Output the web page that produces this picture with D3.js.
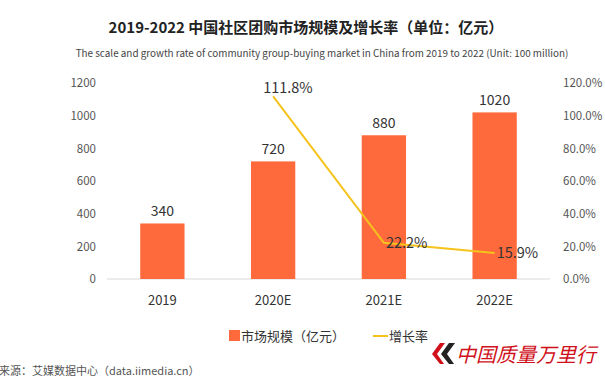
<!DOCTYPE html>
<html><head><meta charset="utf-8">
<script src="https://cdn.jsdelivr.net/npm/d3@7/dist/d3.min.js"></script>
<style>body{margin:0;background:#fff}svg{display:block}</style>
</head><body><svg id="c" width="605" height="378"></svg>
<script>
const categories = ["2019", "2020E", "2021E", "2022E"];
const marketSize = [340, 720, 880, 1020];
const growthCats = ["2020E", "2021E", "2022E"];
const growthRate = [111.8, 22.2, 15.9];
const leftTicks = [0, 200, 400, 600, 800, 1000, 1200];
const rightTicks = [0, 20, 40, 60, 80, 100, 120];

const svg = d3.select("#c");
const font = "'Noto Sans CJK SC','Noto Sans',sans-serif";
const barColor = "#FF6A3C", lineColor = "#F5C31C";

const x = d3.scaleBand().domain(categories).range([107, 550]).paddingInner(0.6).paddingOuter(0.3);
const yL = d3.scaleLinear().domain([0, 1200]).range([279, 83]);
const yR = d3.scaleLinear().domain([0, 120]).range([279, 83]);

// titles
svg.append("text").attr("x", 306).attr("y", 33).attr("text-anchor", "middle")
  .attr("font-family", font).attr("font-weight", "bold").attr("font-size", 15).attr("fill", "#222")
  .text("2019-2022 中国社区团购市场规模及增长率（单位：亿元）");
svg.append("text").attr("x", 322).attr("y", 57).attr("text-anchor", "middle")
  .attr("font-family", font).attr("font-size", 9.9).attr("fill", "#444")
  .text("The scale and growth rate of community group-buying market in China from 2019 to 2022 (Unit: 100 million)");

// left axis
const gl = svg.append("g").attr("transform", "translate(96,0)")
  .call(d3.axisLeft(yL).tickValues(leftTicks).tickSize(0).tickPadding(0).tickFormat(d3.format("d")));
gl.select(".domain").remove();
gl.selectAll("text").attr("font-family", font).attr("font-size", 11.5).attr("fill", "#555");

// right axis
const gr = svg.append("g").attr("transform", "translate(563,0)")
  .call(d3.axisRight(yR).tickValues(rightTicks).tickSize(0).tickPadding(0).tickFormat(d => d.toFixed(1) + "%"));
gr.select(".domain").remove();
gr.selectAll("text").attr("font-family", font).attr("font-size", 11.5).attr("fill", "#555");

// baseline
svg.append("line").attr("x1", 107).attr("x2", 550).attr("y1", yL(0)).attr("y2", yL(0))
  .attr("stroke", "#d9d9d9").attr("stroke-width", 1);

// bars
svg.selectAll("rect.bar").data(categories).join("rect").attr("class", "bar")
  .attr("x", d => x(d)).attr("width", x.bandwidth())
  .attr("y", (d, i) => yL(marketSize[i])).attr("height", (d, i) => yL(0) - yL(marketSize[i]))
  .attr("fill", barColor);

svg.selectAll("text.bl").data(categories).join("text").attr("class", "bl")
  .attr("x", d => x(d) + x.bandwidth() / 2).attr("y", (d, i) => yL(marketSize[i]) - 7)
  .attr("text-anchor", "middle").attr("font-family", font).attr("font-size", 14).attr("fill", "#333")
  .text((d, i) => marketSize[i]);

// x labels
svg.selectAll("text.xl").data(categories).join("text").attr("class", "xl")
  .attr("x", d => x(d) + x.bandwidth() / 2).attr("y", 305)
  .attr("text-anchor", "middle").attr("font-family", font).attr("font-size", 13).attr("fill", "#333")
  .text(d => d);

// line
const pts = growthCats.map((c, i) => [x(c) + x.bandwidth() / 2, yR(growthRate[i])]);
svg.append("path").attr("d", d3.line()(pts)).attr("fill", "none")
  .attr("stroke", lineColor).attr("stroke-width", 2);

svg.selectAll("text.ll").data(growthCats).join("text").attr("class", "ll")
  .attr("x", (d, i) => pts[i][0] + (i === 0 ? -10 : 2))
  .attr("y", (d, i) => pts[i][1] + (i === 0 ? -3 : 5))
  .attr("font-family", font).attr("font-size", 14.5).attr("fill", "#333")
  .text((d, i) => growthRate[i].toFixed(1) + "%");

// legend
svg.append("rect").attr("x", 229).attr("y", 330).attr("width", 11).attr("height", 11).attr("fill", barColor);
svg.append("text").attr("x", 241).attr("y", 341).attr("font-family", font).attr("font-size", 13).attr("fill", "#333")
  .text("市场规模（亿元）");
svg.append("line").attr("x1", 373).attr("x2", 388).attr("y1", 336).attr("y2", 336)
  .attr("stroke", lineColor).attr("stroke-width", 2);
svg.append("text").attr("x", 389).attr("y", 341).attr("font-family", font).attr("font-size", 13).attr("fill", "#333")
  .text("增长率");

// source
svg.append("text").attr("x", -1).attr("y", 375).attr("font-family", font).attr("font-size", 11).attr("fill", "#555")
  .text("来源：艾媒数据中心（data.iimedia.cn）");

// watermark
const wm = svg.append("g");
wm.append("path").attr("d", "M440,343 L432,354 L440,364 L444,364 L437,354 L445,343 Z").attr("fill", "#d0101a");
wm.append("path").attr("d", "M449,343 L441,354 L449,364 L454,364 L447,354 L455,343 Z").attr("fill", "#222");
wm.append("text").attr("x", 456).attr("y", 362).attr("font-family", font).attr("font-size", 20)
  .attr("fill", "#d0101a").attr("font-style", "italic").text("中国质量万里行");
</script></body></html>
